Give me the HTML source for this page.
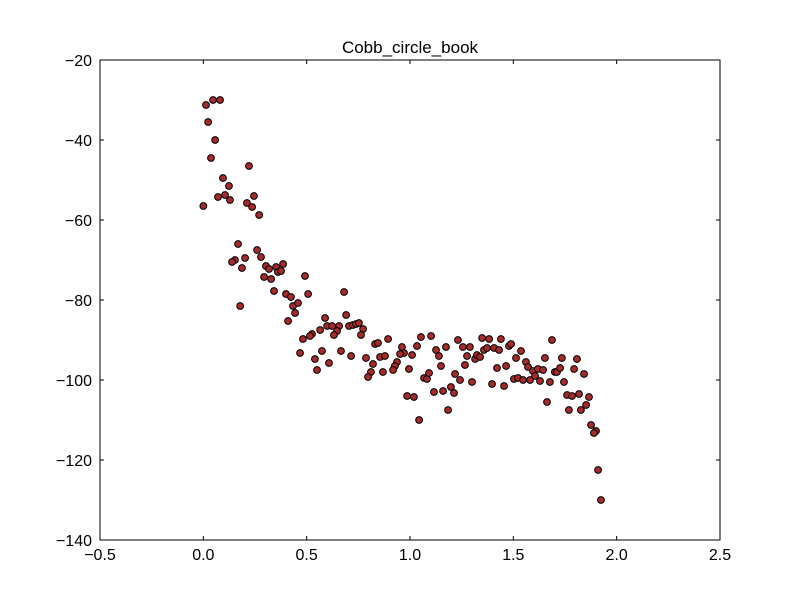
<!DOCTYPE html>
<html><head><meta charset="utf-8"><style>
html,body{margin:0;padding:0;background:#fff;}
svg text{font-family:"Liberation Sans","DejaVu Sans",sans-serif;}
</style></head><body>
<svg id="chart" width="800" height="600" xmlns="http://www.w3.org/2000/svg">
<rect x="0" y="0" width="800" height="600" fill="#fff"/>
<text x="410" y="53" font-size="17" text-anchor="middle">Cobb_circle_book</text>
<g id="points"></g>
<g id="ticks"></g>
<rect x="100" y="60" width="620" height="480" fill="none" stroke="#000" stroke-width="1"/>
</svg>
<script>
const xVals=[0.013,0.047,0.081,0.023,0.057,0.037,0.221,0.095,0.124,0.105,0.071,0.129,0.245,0.211,0.236,0.0,0.270,0.168,0.260,0.279,0.153,0.139,0.202,0.187,0.303,0.318,0.352,0.386,0.361,0.376,0.294,0.328,0.492,0.342,0.400,0.424,0.507,0.681,0.434,0.458,0.444,0.178,0.410,0.589,0.691,0.599,0.623,0.657,0.647,0.632,0.705,0.724,0.739,0.753,0.773,0.763,0.565,0.526,0.516,0.482,0.468,0.574,0.540,0.608,0.666,0.715,0.550,0.787,0.821,0.831,0.845,0.894,0.855,0.879,0.811,0.797,0.869,0.961,0.971,0.952,0.937,0.927,0.918,0.995,1.010,1.034,1.053,1.102,0.986,1.019,1.044,1.068,1.082,1.092,1.116,1.126,1.140,1.150,1.174,1.160,1.198,1.213,1.184,1.218,1.242,1.232,1.256,1.290,1.276,1.266,1.300,1.315,1.324,1.339,1.349,1.383,1.358,1.373,1.407,1.431,1.440,1.421,1.397,1.455,1.465,1.479,1.489,1.513,1.537,1.503,1.523,1.547,1.561,1.571,1.581,1.595,1.605,1.619,1.629,1.644,1.653,1.677,1.687,1.663,1.701,1.711,1.726,1.735,1.745,1.760,1.769,1.784,1.794,1.808,1.818,1.842,1.827,1.852,1.866,1.876,1.900,1.890,1.910,1.924];
const yVals=[-31.25,-30,-30,-35.5,-40,-44.5,-46.5,-49.5,-51.5,-53.75,-54.25,-55,-54,-55.75,-56.75,-56.5,-58.75,-66,-67.5,-69.25,-70,-70.5,-69.5,-72,-71.5,-72.25,-71.75,-71,-73,-72.75,-74.25,-74.75,-74,-77.75,-78.5,-79.25,-78.5,-78,-81.5,-80.75,-83.25,-81.5,-85.25,-84.5,-83.75,-86.5,-86.5,-86.5,-87.75,-88.75,-86.5,-86.25,-86,-85.75,-87.25,-88.75,-87.5,-88.5,-89,-89.75,-93.25,-92.75,-94.75,-95.75,-92.75,-94,-97.5,-94.5,-96,-91,-90.75,-89.75,-94.25,-94,-98,-99.25,-98,-91.75,-93.25,-93.5,-95.5,-96.5,-97.5,-97.25,-93.75,-91.5,-89.25,-89,-104,-104.25,-110,-99.5,-99.75,-98.25,-103,-92.5,-94,-96.5,-91.75,-102.75,-101.75,-103.25,-107.5,-98.5,-100,-90,-91.75,-91.75,-94,-96.25,-100.5,-94.75,-93.75,-94.25,-89.5,-89.75,-92.5,-92,-92,-92.5,-89.75,-97,-101,-101.5,-96.5,-91.5,-91,-94.5,-92.75,-99.75,-99.5,-100,-95.5,-96.75,-100,-97.75,-99,-97.25,-100.25,-97.5,-94.5,-100.5,-90,-105.5,-98,-98,-97,-94.5,-100.5,-103.75,-107.5,-104,-97.25,-94.75,-103.5,-98.5,-107.5,-106.25,-104.25,-111.25,-112.75,-113.25,-122.5,-130];
const xTicks=[-0.5,0.0,0.5,1.0,1.5,2.0,2.5];
const xTickLabels=["\u22120.5","0.0","0.5","1.0","1.5","2.0","2.5"];
const yTicks=[-140,-120,-100,-80,-60,-40,-20];
const yTickLabels=["\u2212140","\u2212120","\u2212100","\u221280","\u221260","\u221240","\u221220"];
const X0=100,X1=720,Y0=540,Y1=60,xMin=-0.5,xMax=2.5,yMin=-140,yMax=-20;
function sx(v){return X0+(v-xMin)/(xMax-xMin)*(X1-X0);}
function sy(v){return Y0-(v-yMin)/(yMax-yMin)*(Y0-Y1);}
const NS="http://www.w3.org/2000/svg";
const pg=document.getElementById('points');
for(let i=0;i<xVals.length;i++){
  const c=document.createElementNS(NS,'circle');
  c.setAttribute('cx',sx(xVals[i]).toFixed(2));
  c.setAttribute('cy',sy(yVals[i]).toFixed(2));
  c.setAttribute('r','3.4');
  c.setAttribute('fill','#a52a2a');
  c.setAttribute('stroke','#000');
  c.setAttribute('stroke-width','1');
  
  
  pg.appendChild(c);
}
const tg=document.getElementById('ticks');
function line(x1,y1,x2,y2){const l=document.createElementNS(NS,'line');l.setAttribute('x1',x1);l.setAttribute('y1',y1);l.setAttribute('x2',x2);l.setAttribute('y2',y2);l.setAttribute('stroke','#000');l.setAttribute('stroke-width','1');tg.appendChild(l);return l;}
xTicks.forEach((v,i)=>{
  const x=sx(v);
  const a=line(x,Y0,x,Y0-4);
  
  
  const b=line(x,Y1,x,Y1+4);
  
  
  const t=document.createElementNS(NS,'text');
  t.setAttribute('x',x);t.setAttribute('y',Y0+20);t.setAttribute('font-size','16');t.setAttribute('text-anchor','middle');
  t.textContent=xTickLabels[i];
  
  
  tg.appendChild(t);
});
yTicks.forEach((v,i)=>{
  const y=sy(v);
  const a=line(X0,y,X0+4,y);
  
  
  const b=line(X1,y,X1-4,y);
  
  
  const t=document.createElementNS(NS,'text');
  t.setAttribute('x',X0-8);t.setAttribute('y',y+6);t.setAttribute('font-size','16');t.setAttribute('text-anchor','end');
  t.textContent=yTickLabels[i];
  
  
  tg.appendChild(t);
});
</script>
</body></html>
